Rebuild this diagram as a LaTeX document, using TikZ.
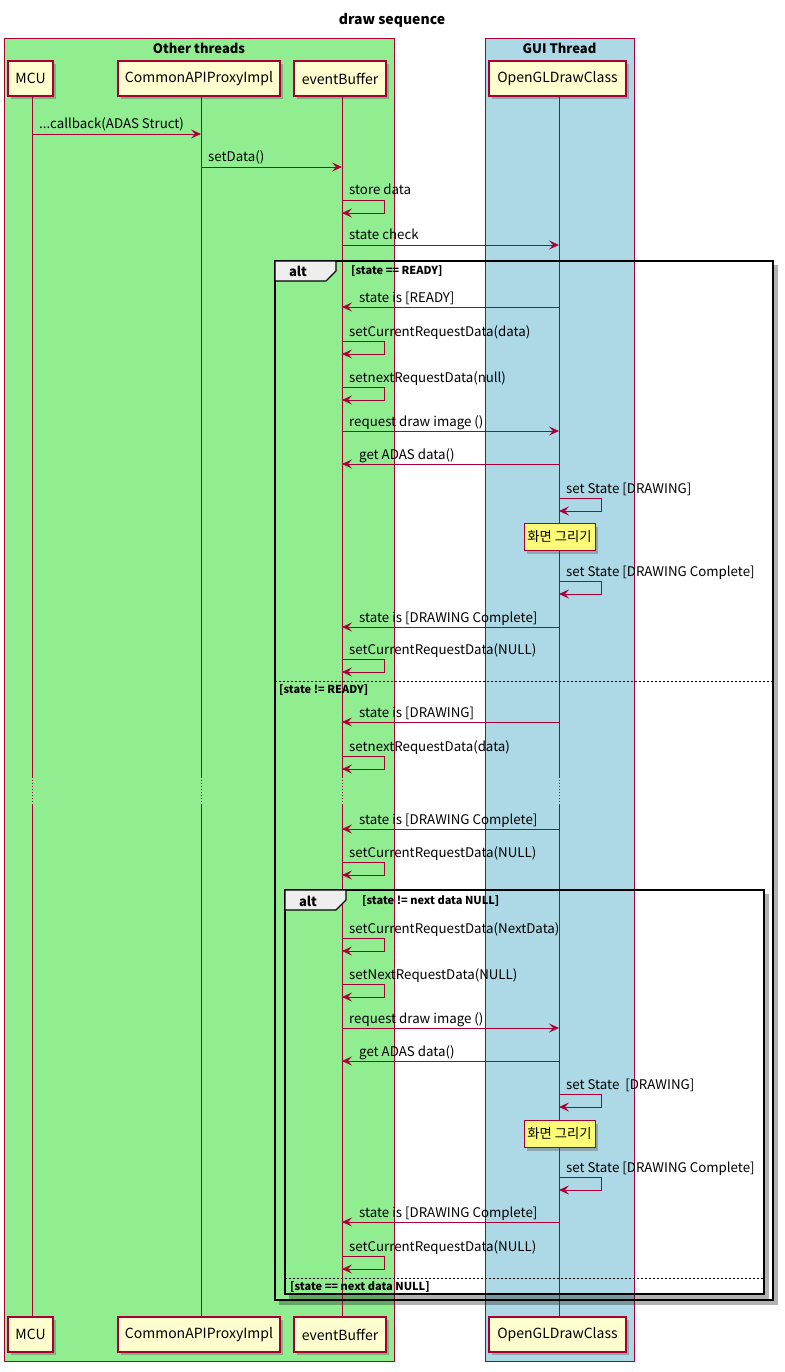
\documentclass[tikz,border=0pt]{standalone}
\usepackage{fontspec}
\setmainfont{Noto Sans CJK KR}
\usetikzlibrary{arrows.meta,shadows,calc}
\definecolor{pborder}{HTML}{A80036}
\definecolor{pfill}{HTML}{FEFECE}
\definecolor{grn}{HTML}{90EE90}
\definecolor{blu}{HTML}{ADD8E6}
\definecolor{notefill}{HTML}{FBFB77}
\definecolor{tabfill}{HTML}{EEEEEE}
\tikzset{
  part/.style={draw=pborder, fill=pfill, line width=1.1pt, minimum height=35pt, inner sep=0pt,
    font=\fontsize{14}{16}\selectfont,
    drop shadow={shadow xshift=3pt, shadow yshift=-3pt, opacity=0.35, fill=black!70}},
  boxlbl/.style={font=\bfseries\fontsize{13}{15}\selectfont, inner sep=0pt},
  life/.style={draw=pborder, line width=0.8pt},
  lifedot/.style={draw=pborder, line width=0.8pt, dash pattern=on 1pt off 2pt},
  msg/.style={draw=pborder, line width=0.8pt, -{Stealth[length=10pt,width=9pt,inset=4pt]}},
  lbl/.style={anchor=base west, inner sep=0pt, font=\fontsize{13.3}{15}\selectfont},
  guard/.style={anchor=west, inner sep=0pt, font=\bfseries\fontsize{11}{13}\selectfont},
  frame/.style={draw=black, line width=1.6pt},
  frameshadow/.style={draw=black, opacity=0.3, line width=4pt},
  tab/.style={draw=black, line width=1.2pt, fill=tabfill},
  sep/.style={draw=black, line width=0.7pt, dash pattern=on 2pt off 2pt},
  notebox/.style={draw=pborder, fill=notefill, line width=0.8pt, minimum width=71pt, minimum height=27pt,
    inner sep=0pt, font=\fontsize{13.3}{15}\selectfont,
    drop shadow={shadow xshift=3pt, shadow yshift=-3pt, opacity=0.35, fill=black!70}}
}
\newcommand{\msgLR}[5]{%
  \draw[msg] (#1 |- 0,#3) -- (#2 |- 0,#3);
  \node[lbl] (#5) at ($(#1 |- 0,#3)+(7,-5)$) {#4};}
\newcommand{\msgRL}[5]{%
  \draw[msg] (#1 |- 0,#3) -- (#2 |- 0,#3);
  \node[lbl] (#5) at ($(#2 |- 0,#3)+(17,-5)$) {#4};}
\newcommand{\selfm}[4]{%
  \draw[msg] (#1 |- 0,#2) -- ++(42,0) -- ++(0,13) -- ++(-42,0);
  \node[lbl] (#4) at ($(#1 |- 0,#2)+(7,-5)$) {#3};}
\begin{document}
\begin{tikzpicture}[x=1pt,y=-1pt]
\useasboundingbox (0,0) rectangle (784,1372);
% title
\node[font=\bfseries\fontsize{14}{16}\selectfont, inner sep=0pt] (title) at (392,20) {draw sequence};
% thread boxes
\draw[draw=pborder, fill=grn, line width=0.8pt] (4,38) rectangle (394,1361);
\draw[draw=pborder, fill=blu, line width=0.8pt] (485,38) rectangle (634,1361);
\node[boxlbl] (other) at (199,48) {Other threads};
\node[boxlbl] (gui) at (559.5,48) {GUI Thread};
% lifeline coordinates
\coordinate (MCU) at (32,96);
\coordinate (CAPI) at (201,96);
\coordinate (EB) at (342,96);
\coordinate (GL) at (559,96);
% frame shadows
\draw[frameshadow] (776,265) -- (776,1303) -- (279,1303);
\draw[frameshadow] (767,894) -- (767,1297) -- (289,1297);
% lifelines
\foreach \n in {MCU,CAPI,EB,GL}{
  \draw[life] (\n |- 0,96) -- (\n |- 0,777);
  \draw[lifedot] (\n |- 0,777) -- (\n |- 0,805);
  \draw[life] (\n |- 0,805) -- (\n |- 0,1317);
}
% participants
\node[part, minimum width=45pt] (pMCU) at (30.5,78.5) {MCU};
\node[part, minimum width=162pt] (pCAPI) at (199,78.5) {CommonAPIProxyImpl};
\node[part, minimum width=92pt] (pEB) at (340,78.5) {eventBuffer};
\node[part, minimum width=137pt] (pGL) at (557.5,78.5) {OpenGLDrawClass};
\node[part, minimum width=45pt] (bMCU) at (30.5,1334.5) {MCU};
\node[part, minimum width=162pt] (bCAPI) at (199,1334.5) {CommonAPIProxyImpl};
\node[part, minimum width=92pt] (bEB) at (340,1334.5) {eventBuffer};
\node[part, minimum width=137pt] (bGL) at (557.5,1334.5) {OpenGLDrawClass};
% outer alt frame
\draw[frame] (275,261) rectangle (773,1300);
\draw[tab] (275,261) -- (336,261) -- (336,271) -- (326,281) -- (275,281) -- cycle;
\node[font=\bfseries\fontsize{13}{15}\selectfont, inner sep=0pt] (alt1) at (298,271) {alt};
\node[guard] (g1) at (351,271) {[state == READY]};
\draw[sep] (275,681) -- (773,681);
\node[guard] (g2) at (279,690) {[state != READY]};
% inner alt frame
\draw[frame] (285,890) rectangle (764,1294);
\draw[tab] (285,890) -- (346,890) -- (346,900) -- (336,910) -- (285,910) -- cycle;
\node[font=\bfseries\fontsize{13}{15}\selectfont, inner sep=0pt] (alt2) at (308,901) {alt};
\node[guard] (g3) at (362,901) {[state != next data NULL]};
\draw[sep] (285,1278) -- (764,1278);
\node[guard] (g4) at (290,1287) {[state == next data NULL]};
% messages
\msgLR{MCU}{CAPI}{134}{...callback(ADAS Struct)}{m1}
\msgLR{CAPI}{EB}{167}{setData()}{m2}
\selfm{EB}{200}{store data}{m3}
\msgLR{EB}{GL}{245}{state check}{m4}
\msgRL{GL}{EB}{307}{state is [READY]}{m5}
\selfm{EB}{341}{setCurrentRequestData(data)}{m6}
\selfm{EB}{387}{setnextRequestData(null)}{m7}
\msgLR{EB}{GL}{431}{request draw image ()}{m8}
\msgRL{GL}{EB}{464}{get ADAS data()}{m9}
\selfm{GL}{498}{set State [DRAWING]}{m10}
\node[notebox] (n1) at (559.5,537) {화면 그리기};
\selfm{GL}{581}{set State [DRAWING Complete]}{m11}
\msgRL{GL}{EB}{627}{state is [DRAWING Complete]}{m12}
\selfm{EB}{659}{setCurrentRequestData(NULL)}{m13}
\msgRL{GL}{EB}{722}{state is [DRAWING]}{m14}
\selfm{EB}{756}{setnextRequestData(data)}{m15}
\msgRL{GL}{EB}{829}{state is [DRAWING Complete]}{m16}
\selfm{EB}{862}{setCurrentRequestData(NULL)}{m17}
\selfm{EB}{938}{setCurrentRequestData(NextData)}{m18}
\selfm{EB}{984}{setNextRequestData(NULL)}{m19}
\msgLR{EB}{GL}{1028}{request draw image ()}{m20}
\msgRL{GL}{EB}{1061}{get ADAS data()}{m21}
\selfm{GL}{1094}{set State\ \ [DRAWING]}{m22}
\node[notebox] (n2) at (559.5,1134) {화면 그리기};
\selfm{GL}{1177}{set State [DRAWING Complete]}{m23}
\msgRL{GL}{EB}{1222}{state is [DRAWING Complete]}{m24}
\selfm{EB}{1256}{setCurrentRequestData(NULL)}{m25}
\end{tikzpicture}
\end{document}
